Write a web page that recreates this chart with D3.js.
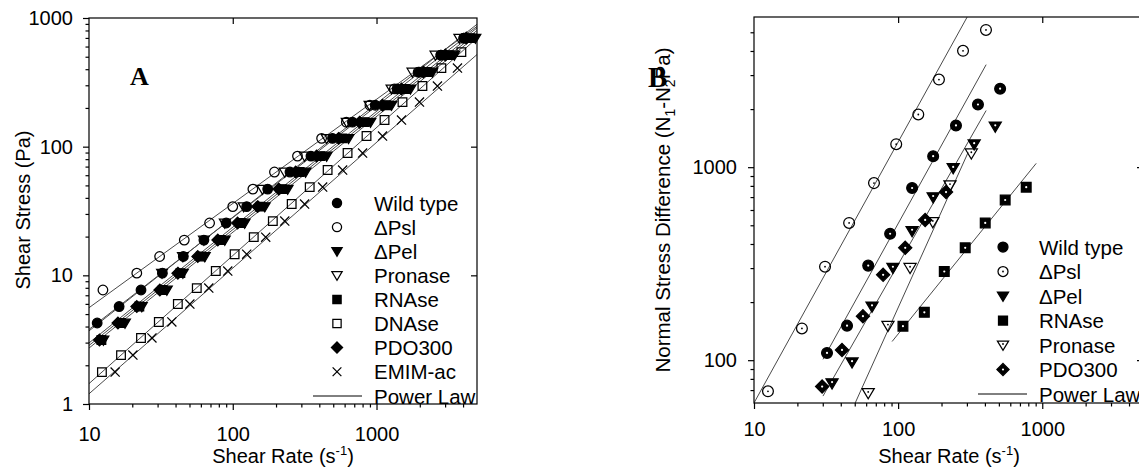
<!DOCTYPE html>
<html><head><meta charset="utf-8">
<script src="https://cdn.jsdelivr.net/npm/d3@7"></script>
<style>body{margin:0;background:#fff}svg{display:block}</style>
</head><body><svg id="c" width="1139" height="470"></svg>
<script>
// ---------------- DATA : panel A (shear stress vs shear rate) ----------------
const stressMain = [3.14, 4.26, 5.72, 7.69, 10.4, 14.0, 18.8, 25.5, 34.2, 46.8, 63.5, 84.5, 116, 155, 210, 281, 380, 515, 698];
const stressLow  = [1.77, 2.40, 3.26, 4.34, 5.98, 7.96, 10.8, 14.6, 19.8, 26.4, 35.8, 48.5, 65.8, 89.2, 121, 161, 222, 296, 408, 543];

const wildA    = [11.4, 16.2, 23, 32.4, 45.3, 63, 90, 125, 175, 250, 350, 494, 680, 980, 1390, 1980, 2810, 4050]; // stressMain from index 1
const pslA     = [12.5, 21.5, 31, 46, 69, 100, 138, 195, 282, 415, 617, 900, 1330, 1950, 2800, 4050];           // from index 3
const pelA     = [12.6, 17.8, 23.3, 34.8, 45, 63.9, 88, 121, 167, 241, 321, 450, 639, 908, 1271, 1722, 2449, 3481, 4875];
const pronaseA = [32.2, 45, 63, 88, 119, 161, 230, 316, 450, 620, 894, 1271, 1778, 2570, 3767];                 // from index 4
const rnaseA   = [12.2, 16.7, 22.4, 32.6, 43.2, 60, 82.6, 114, 156, 222, 292, 408, 580, 826, 1173, 1589, 2259, 3213, 4497];
const dnaseA   = [12.3, 16.7, 23, 30.6, 41.5, 56.2, 76.2, 103, 140, 190, 257, 343, 457, 629, 852, 1137, 1516, 2086, 2826, 3893]; // stressLow
const pdoA     = [11.83, 15.9, 21.5, 31.1, 41.5, 57.1, 78.7, 108, 149, 209, 274, 383, 545, 763, 1101, 1492, 2119, 3014, 4217];
const emimA    = [15.2, 20.2, 27.4, 37.7, 50.3, 68.1, 92.3, 125, 169.5, 230, 316, 422, 581, 800, 1101, 1492, 1990, 2653, 3656]; // stressLow

// power-law fits, panel A: stress at 10 1/s and exponent
const fitNamesA = ['Wild type', 'ΔPsl', 'ΔPel', 'Pronase', 'RNAse', 'DNAse', 'PDO300', 'EMIM-ac'];
const fitK10A   = [3.8, 5.6, 2.72, 3.7, 2.85, 1.44, 2.98, 1.2];
const fitNA     = [0.868, 0.81, 0.9, 0.883, 0.9, 0.995, 0.9, 0.977];

// ---------------- DATA : panel B (normal stress difference) ----------------
const wildBx = [32.1, 44.2, 62, 88, 125, 175, 252, 358, 510];
const wildBy = [109, 151, 309, 452, 780, 1140, 1645, 2113, 2552];
const pslBx  = [12.5, 21.5, 31.1, 45.7, 68, 97, 138, 192, 282, 407];
const pslBy  = [69, 146, 305, 514, 827, 1315, 1875, 2845, 4010, 5140];
const pelBx  = [34.8, 47.9, 65.9, 92, 125, 175, 241, 337, 472];
const pelBy  = [76, 97.6, 190, 301, 468, 700, 990, 1315, 1626];
const rnaBx  = [108, 152, 209, 292, 402, 553, 774];
const rnaBy  = [150, 177, 288, 382, 514, 676, 788];
const proBx  = [62, 85, 121, 174, 229, 322];
const proBy  = [67.6, 151, 301, 520, 807, 1180];
const pdoBx  = [29.7, 40.8, 57, 78.7, 112, 154, 215];
const pdoBy  = [73, 113, 169, 277, 382, 533, 743];

// power-law fits, panel B: value at 100 1/s, exponent, shear-rate range
const fitNamesB = ['ΔPsl', 'Wild type', 'ΔPel', 'Pronase', 'RNAse'];
const fitY100B  = [1350, 510, 313, 187, 136.6];
const fitNB     = [1.352, 1.349, 1.307, 1.657, 0.923];
const fitXminB  = [10, 30.1, 30.1, 50.3, 90.8];
const fitXmaxB  = [301, 408, 408, 306, 908];

// ticks
const majorA_x = [10, 100, 1000], majorA_y = [1, 10, 100, 1000];
const majorB_x = [10, 100, 1000], majorB_y = [100, 1000];

// ---------------- DRAWING ----------------
const FONT = 'Liberation Sans, Arial, Helvetica, sans-serif';
const svg = d3.select('#c');
svg.append('rect').attr('width', 1139).attr('height', 470).attr('fill', '#fff');

const xA = d3.scaleLog().domain([10, 5000]).range([89, 477]);
const yA = d3.scaleLog().domain([1, 1000]).range([404, 18]);
const xB = d3.scaleLog().domain([10, 5000]).range([754, 1143]);
const yB = d3.scaleLog().domain([60, 6000]).range([403, 17]);

function minors(lo, hi) {
  const out = [];
  for (let d = Math.pow(10, Math.floor(Math.log10(lo))); d < hi; d *= 10)
    for (let k = 2; k <= 9; k++) { const v = k * d; if (v > lo && v < hi) out.push(v); }
  return out;
}

function styleAxis(g) {
  g.select('.domain').remove();
  g.selectAll('line').attr('stroke', '#000').attr('stroke-width', 1.2);
  g.selectAll('text').attr('font-family', FONT).attr('font-size', 20).attr('fill', '#000');
  g.attr('font-family', FONT);
}

function axes(x, y, mx, my, padX, padY) {
  const [x0, x1] = x.range(), [y0, y1] = y.range();
  const fmt = d3.format('d');
  svg.append('g').attr('transform', `translate(${x0},0)`)
    .call(d3.axisLeft(y).tickValues(my).tickFormat(fmt).tickSize(6).tickPadding(padY)).call(styleAxis);
  svg.append('g').attr('transform', `translate(${x0},0)`)
    .call(d3.axisLeft(y).tickValues(minors(y.domain()[0], y.domain()[1])).tickFormat('').tickSize(3.5)).call(styleAxis);
  svg.append('g').attr('transform', `translate(0,${y0})`)
    .call(d3.axisBottom(x).tickValues(mx).tickFormat(fmt).tickSize(6).tickPadding(padX)).call(styleAxis);
  svg.append('g').attr('transform', `translate(0,${y0})`)
    .call(d3.axisBottom(x).tickValues(minors(x.domain()[0], x.domain()[1])).tickFormat('').tickSize(3.5)).call(styleAxis);
  svg.append('g').attr('transform', `translate(0,${y1})`)
    .call(d3.axisTop(x).tickValues(mx.filter(v => v > x.domain()[0])).tickFormat('').tickSize(-6)).call(styleAxis);
  svg.append('g').attr('transform', `translate(${x1},0)`)
    .call(d3.axisRight(y).tickValues(my.filter(v => v > y.domain()[0] && v < y.domain()[1])).tickFormat('').tickSize(-6)).call(styleAxis);
  svg.append('rect').attr('x', x0).attr('y', y1).attr('width', x1 - x0).attr('height', y0 - y1)
    .attr('fill', 'none').attr('stroke', '#000').attr('stroke-width', 1.2);
}

function shape(type, s) {
  switch (type) {
    case 'circle': return `M${s},0A${s},${s} 0 1,1 ${-s},0A${s},${s} 0 1,1 ${s},0Z`;
    case 'tri': return `M${-s * 1.12},${-s * 0.8}L${s * 1.12},${-s * 0.8}L0,${s * 1.08}Z`;
    case 'square': return `M${-s * 0.9},${-s * 0.9}h${1.8 * s}v${1.8 * s}h${-1.8 * s}Z`;
    case 'diamond': return `M0,${-s * 1.22}L${s * 1.22},0L0,${s * 1.22}L${-s * 1.22},0Z`;
    case 'x': return `M${-s * 0.95},${-s * 0.95}L${s * 0.95},${s * 0.95}M${-s * 0.95},${s * 0.95}L${s * 0.95},${-s * 0.95}`;
  }
}

function marker(g, type, filled, cx, cy, s, dot) {
  g.append('path').attr('d', shape(type, s)).attr('transform', `translate(${cx},${cy})`)
    .attr('fill', type === 'x' ? 'none' : (filled ? '#000' : 'none'))
    .attr('stroke', '#000').attr('stroke-width', 1.25);
  if (dot) {
    g.append('circle').attr('cx', cx).attr('cy', cy + (type === 'tri' ? -s * 0.2 : 0)).attr('r', filled ? 1.1 : 0.9)
      .attr('fill', filled ? '#fff' : '#000');
  }
}

// clip paths
const defs = svg.append('defs');
defs.append('clipPath').attr('id', 'clipA').append('rect').attr('x', 89).attr('y', 18).attr('width', 388).attr('height', 386);
defs.append('clipPath').attr('id', 'clipB').append('rect').attr('x', 754).attr('y', 17).attr('width', 389).attr('height', 386);

// ---------- Panel A ----------
const seriesA = [
  { name: 'Wild type', type: 'circle', filled: true, xs: wildA, ys: stressMain, start: 1 },
  { name: 'ΔPsl', type: 'circle', filled: false, xs: pslA, ys: stressMain, start: 3 },
  { name: 'ΔPel', type: 'tri', filled: true, xs: pelA, ys: stressMain, start: 0 },
  { name: 'Pronase', type: 'tri', filled: false, xs: pronaseA, ys: stressMain, start: 4 },
  { name: 'RNAse', type: 'square', filled: true, xs: rnaseA, ys: stressMain, start: 0 },
  { name: 'DNAse', type: 'square', filled: false, xs: dnaseA, ys: stressLow, start: 0 },
  { name: 'PDO300', type: 'diamond', filled: true, xs: pdoA, ys: stressMain, start: 0 },
  { name: 'EMIM-ac', type: 'x', filled: false, xs: emimA, ys: stressLow, start: 0 }
];

const lineGen = (x, y) => d3.line().x(d => x(d[0])).y(d => y(d[1]));
const gLinesA = svg.append('g').attr('clip-path', 'url(#clipA)');
fitNamesA.forEach((n, i) => {
  const pts = [10, 5000].map(v => [v, fitK10A[i] * Math.pow(v / 10, fitNA[i])]);
  gLinesA.append('path').attr('d', lineGen(xA, yA)(pts)).attr('fill', 'none')
    .attr('stroke', '#4a4a4a').attr('stroke-width', 1);
});

const gMarkA = svg.append('g');
seriesA.forEach(s => {
  s.xs.forEach((xv, i) => marker(gMarkA, s.type, s.filled, xA(xv), yA(s.ys[s.start + i]), 4.8, false));
});

axes(xA, yA, majorA_x, majorA_y, 17, 10);

// legend A
const legA = svg.append('g');
seriesA.forEach((s, i) => {
  const cy = 203 + i * 24.1;
  marker(legA, s.type, s.filled, 337, cy, 4.6, false);
  legA.append('text').attr('x', 374).attr('y', cy + 7.5).text(s.name)
    .attr('font-family', FONT).attr('font-size', 20.5);
});
legA.append('line').attr('x1', 313).attr('x2', 362).attr('y1', 396).attr('y2', 396).attr('stroke', '#000').attr('stroke-width', 1);
legA.append('text').attr('x', 374).attr('y', 396 + 7.5).text('Power Law').attr('font-family', FONT).attr('font-size', 20.5);

svg.append('text').attr('x', 130).attr('y', 85).text('A')
  .attr('font-family', 'Liberation Serif, Times New Roman, serif').attr('font-weight', 'bold').attr('font-size', 26);

function xTitle(cx) {
  const t = svg.append('text').attr('x', cx).attr('y', 463).attr('text-anchor', 'middle')
    .attr('font-family', FONT).attr('font-size', 20);
  t.append('tspan').text('Shear Rate (s');
  t.append('tspan').text('-1').attr('font-size', 13).attr('dy', -8);
  t.append('tspan').text(')').attr('dy', 8);
}
xTitle(283);
svg.append('text').attr('transform', 'translate(30,210) rotate(-90)').attr('text-anchor', 'middle')
  .attr('font-family', FONT).attr('font-size', 20).text('Shear Stress (Pa)');

// ---------- Panel B ----------
const seriesB = [
  { name: 'Wild type', type: 'circle', filled: true, xs: wildBx, ys: wildBy },
  { name: 'ΔPsl', type: 'circle', filled: false, xs: pslBx, ys: pslBy },
  { name: 'ΔPel', type: 'tri', filled: true, xs: pelBx, ys: pelBy },
  { name: 'RNAse', type: 'square', filled: true, xs: rnaBx, ys: rnaBy },
  { name: 'Pronase', type: 'tri', filled: false, xs: proBx, ys: proBy },
  { name: 'PDO300', type: 'diamond', filled: true, xs: pdoBx, ys: pdoBy }
];

const gLinesB = svg.append('g').attr('clip-path', 'url(#clipB)');
fitNamesB.forEach((n, i) => {
  const pts = [fitXminB[i], fitXmaxB[i]].map(v => [v, fitY100B[i] * Math.pow(v / 100, fitNB[i])]);
  gLinesB.append('path').attr('d', lineGen(xB, yB)(pts)).attr('fill', 'none')
    .attr('stroke', '#4a4a4a').attr('stroke-width', 1);
});

const gMarkB = svg.append('g');
seriesB.forEach(s => {
  s.xs.forEach((xv, i) => marker(gMarkB, s.type, s.filled, xB(xv), yB(s.ys[i]), 5.4, true));
});

axes(xB, yB, majorB_x, majorB_y, 13, 11);

const legB = svg.append('g');
seriesB.forEach((s, i) => {
  const cy = 247 + i * 24.5;
  marker(legB, s.type, s.filled, 1003, cy, 5, !s.filled || s.type === 'diamond');
  legB.append('text').attr('x', 1039).attr('y', cy + 7.5).text(s.name)
    .attr('font-family', FONT).attr('font-size', 20.5);
});
legB.append('line').attr('x1', 978).attr('x2', 1027).attr('y1', 394).attr('y2', 394).attr('stroke', '#000').attr('stroke-width', 1);
legB.append('text').attr('x', 1039).attr('y', 394 + 7.5).text('Power Law').attr('font-family', FONT).attr('font-size', 20.5);

xTitle(949);
const yt = svg.append('text').attr('transform', 'translate(670,210) rotate(-90)').attr('text-anchor', 'middle')
  .attr('font-family', FONT).attr('font-size', 20.5);
yt.append('tspan').text('Normal Stress Difference (N');
yt.append('tspan').text('1').attr('font-size', 14).attr('dy', 5);
yt.append('tspan').text('-N').attr('dy', -5);
yt.append('tspan').text('2').attr('font-size', 14).attr('dy', 5);
yt.append('tspan').text('Pa)').attr('dy', -5);

svg.append('text').attr('x', 648).attr('y', 87).text('B')
  .attr('font-family', 'Liberation Serif, Times New Roman, serif').attr('font-weight', 'bold').attr('font-size', 29);
</script></body></html>
